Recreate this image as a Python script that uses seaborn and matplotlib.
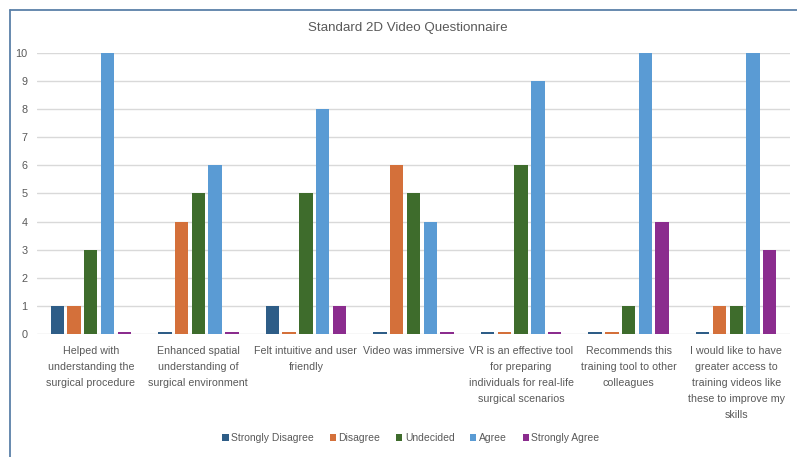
import matplotlib
matplotlib.use("Agg")
import matplotlib.pyplot as plt
from matplotlib.patches import Patch
from matplotlib.lines import Line2D
import seaborn as sns
import pandas as pd

# Survey statements (x categories), wrapped as they appear under the axis
statements = [
    "Helped with\nunderstanding the\nsurgical procedure",
    "Enhanced spatial\nunderstanding of\nsurgical environment",
    "Felt intuitive and user\nfriendly",
    "Video was immersive",
    "VR is an effective tool\nfor preparing\nindividuals for real-life\nsurgical scenarios",
    "Recommends this\ntraining tool to other\ncolleagues",
    "I would like to have\ngreater access to\ntraining videos like\nthese to improve my\nskills",
]

# Likert response levels (hue)
levels = ["Strongly Disagree", "Disagree", "Undecided", "Agree", "Strongly Agree"]

# Response counts per level, one value per statement
strongly_disagree = [1, 0, 1, 0, 0, 0, 0]
disagree = [1, 4, 0, 6, 0, 0, 1]
undecided = [3, 5, 5, 5, 6, 1, 1]
agree = [10, 6, 8, 4, 9, 10, 10]
strongly_agree = [0, 0, 1, 0, 0, 4, 3]

colors = ["#2E5D87", "#D4703A", "#3E6C2C", "#5A9BD4", "#8B2C8E"]

rows = []
for level, counts in zip(levels, [strongly_disagree, disagree, undecided, agree, strongly_agree]):
    for stmt, c in zip(statements, counts):
        rows.append({"statement": stmt, "level": level, "count": c})
df = pd.DataFrame(rows)
# zero counts are still shown as a thin stub on the baseline
df["shown"] = df["count"].clip(lower=0.08)

sns.set_theme(style="white")
plt.rcParams["font.family"] = ["Liberation Sans", "DejaVu Sans"]
text_color = "#595959"

fig = plt.figure(figsize=(7.97, 4.57), dpi=100)
ax = fig.add_axes([37 / 797, 1 - 334 / 457, (790 - 37) / 797, (334 - 53) / 457])

sns.barplot(data=df, x="statement", y="shown", hue="level", order=statements,
            hue_order=levels, palette=colors, width=0.78, gap=0.2,
            saturation=1, linewidth=0, legend=False, ax=ax, zorder=3)

ax.set_ylim(0, 10)
ax.set_xlim(-0.5, len(statements) - 0.5)
ax.set_yticks(range(0, 11))
ax.yaxis.grid(True, color="#D9D9D9", linewidth=1.0, zorder=0)
ax.set_axisbelow(True)
for s in ax.spines.values():
    s.set_visible(False)
ax.set_xlabel("")
ax.set_ylabel("")
ax.tick_params(axis="y", length=0, pad=7, labelsize=7.8, labelcolor=text_color)
ax.tick_params(axis="x", length=0, pad=9, labelsize=7.7, labelcolor=text_color)
for lbl in ax.get_xticklabels():
    lbl.set_linespacing(1.75)
    lbl.set_horizontalalignment("center")

fig.text(408 / 797, 1 - 28 / 457, "Standard 2D Video Questionnaire",
         ha="center", va="center", fontsize=9.6, color=text_color)

handles = [Patch(facecolor=c, edgecolor="none") for c in colors]
leg = fig.legend(handles, levels, loc="center", bbox_to_anchor=(411 / 797, 1 - 438 / 457),
                 ncol=5, frameon=False, fontsize=7.5, handlelength=0.6, handleheight=0.6,
                 handletextpad=0.25, columnspacing=1.5)
for t in leg.get_texts():
    t.set_color(text_color)

# chart frame: left and top edges
frame_color = "#5B80A8"
fig.add_artist(Line2D([10 / 797, 10 / 797], [0, 1 - 10 / 457], transform=fig.transFigure,
                      color=frame_color, linewidth=1.3))
fig.add_artist(Line2D([10 / 797, 1], [1 - 10 / 457, 1 - 10 / 457], transform=fig.transFigure,
                      color=frame_color, linewidth=1.3))

fig.savefig("out.png", dpi=100, facecolor="white")
